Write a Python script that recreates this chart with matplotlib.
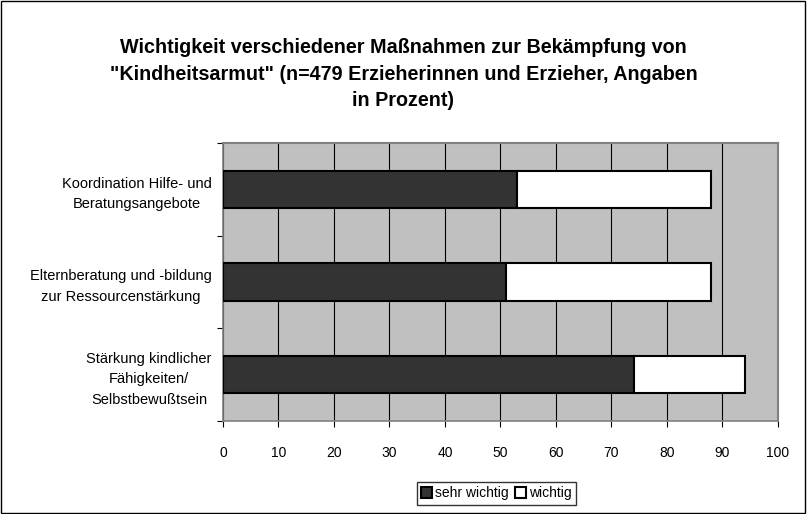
import matplotlib
matplotlib.use('Agg')
import matplotlib.pyplot as plt
from matplotlib.patches import Rectangle

plt.rcParams['font.family'] = ['Liberation Sans', 'DejaVu Sans']

kategorien = ['Stärkung kindlicher\nFähigkeiten/\nSelbstbewußtsein',
              'Elternberatung und -bildung\nzur Ressourcenstärkung',
              'Koordination Hilfe- und\nBeratungsangebote']
sehr_wichtig = [74, 51, 53]
wichtig = [20, 37, 35]
xticks = [0, 10, 20, 30, 40, 50, 60, 70, 80, 90, 100]

fig = plt.figure(figsize=(8.07, 5.14), dpi=100)
ax = fig.add_axes([0.2763, 0.181, 0.6877, 0.5408])
ax.set_facecolor('#c0c0c0')

y = range(len(kategorien))
ax.barh(y, sehr_wichtig, height=0.4, color='#333333', edgecolor='black', linewidth=1.5,
        label='sehr wichtig', zorder=3)
ax.barh(y, wichtig, left=sehr_wichtig, height=0.4, color='white', edgecolor='black',
        linewidth=1.5, label='wichtig', zorder=3)

ax.set_xlim(0, 100)
ax.set_ylim(-0.5, 2.5)
ax.set_xticks(xticks)
ax.set_xticklabels([str(t) for t in xticks], fontsize=10)
ax.xaxis.grid(True, color='black', linewidth=0.8, zorder=1)
ax.set_axisbelow(True)

ax.set_yticks([0.5, 1.5, 2.5, -0.5])
ax.set_yticklabels([])
ax.set_yticks(list(y), minor=True)
ax.set_yticklabels(kategorien, minor=True, fontsize=10.5, ha='right',
                   multialignment='center', linespacing=1.6)
ax.tick_params(axis='y', which='minor', length=0, pad=8)
ax.tick_params(axis='y', which='major', length=4, direction='out')
ax.tick_params(axis='x', length=4, direction='out', pad=14)

for s in ['top', 'right']:
    ax.spines[s].set_color('#808080')
    ax.spines[s].set_linewidth(1.5)
for s in ['left', 'bottom']:
    ax.spines[s].set_color('#808080')
    ax.spines[s].set_linewidth(1.2)

fig.text(0.5, 0.856, 'Wichtigkeit verschiedener Maßnahmen zur Bekämpfung von\n'
         '"Kindheitsarmut" (n=479 Erzieherinnen und Erzieher, Angaben\nin Prozent)',
         ha='center', va='center', fontsize=14.2, fontweight='bold', linespacing=1.5)

leg = fig.legend(loc='center', bbox_to_anchor=(0.615, 0.04), ncol=2, fontsize=10,
                 frameon=True, fancybox=False, edgecolor='black', handlelength=0.8,
                 handleheight=0.8, handletextpad=0.2, columnspacing=0.5,
                 borderpad=0.3)
leg.get_frame().set_linewidth(1)

fig.patches.append(Rectangle((0.001, 0.001), 0.997, 0.997, transform=fig.transFigure,
                             fill=False, edgecolor='black', linewidth=1))

fig.savefig('out.png', dpi=100)
